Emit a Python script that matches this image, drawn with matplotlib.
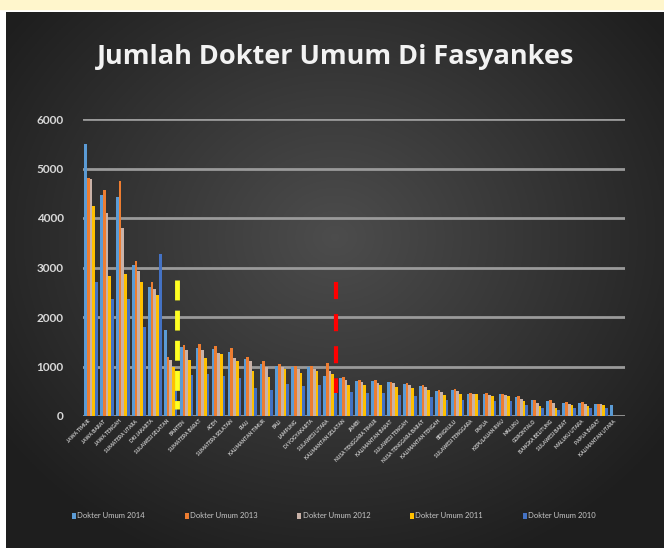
import numpy as np
import matplotlib
matplotlib.use("Agg")
import matplotlib.pyplot as plt
from matplotlib.patches import Rectangle

plt.rcParams['font.family'] = ['Lato', 'DejaVu Sans']

provinsi = ['JAWA TIMUR', 'JAWA BARAT', 'JAWA TENGAH', 'SUMATERA UTARA', 'DKI JAKARTA',
            'SULAWESI SELATAN', 'BANTEN', 'SUMATERA BARAT', 'ACEH', 'SUMATERA SELATAN',
            'RIAU', 'KALIMANTAN TIMUR', 'BALI', 'LAMPUNG', 'DI YOGYAKARTA',
            'SULAWESI UTARA', 'KALIMANTAN SELATAN', 'JAMBI', 'NUSA TENGGARA TIMUR',
            'KALIMANTAN BARAT', 'SULAWESI TENGAH', 'NUSA TENGGARA BARAT', 'KALIMANTAN TENGAH',
            'BENGKULU', 'SULAWESI TENGGARA', 'PAPUA', 'KEPULAUAN RIAU', 'MALUKU',
            'GORONTALO', 'BANGKA BELITUNG', 'SULAWESI BARAT', 'MALUKU UTARA',
            'PAPUA BARAT', 'KALIMANTAN UTARA']

d2014 = [5500, 4470, 4430, 3050, 2600, 1730, 1400, 1380, 1350, 1300, 1150, 1060, 1010, 990,
         1000, 800, 760, 700, 700, 680, 640, 610, 510, 520, 450, 450, 440, 380, 320, 300,
         270, 265, 240, 230]
d2013 = [4800, 4560, 4750, 3130, 2700, 1200, 1440, 1460, 1410, 1380, 1200, 1110, 1060, 1020,
         1020, 1070, 780, 720, 720, 690, 660, 625, 530, 540, 460, 460, 450, 395, 330, 315,
         275, 275, 245, 0]
d2012 = [4780, 4100, 3800, 2930, 2570, 1130, 1340, 1340, 1280, 1180, 1110, 980, 980, 940,
         940, 900, 720, 690, 670, 660, 625, 590, 490, 500, 450, 430, 430, 340, 260, 260,
         250, 250, 235, 0]
d2011 = [4250, 2830, 2870, 2700, 2450, 1000, 1140, 1180, 1250, 1110, 900, 780, 950, 870,
         910, 850, 625, 625, 625, 590, 560, 530, 430, 440, 440, 395, 410, 300, 200, 165,
         230, 210, 220, 0]
d2010 = [2700, 2370, 2370, 1800, 3270, 900, 820, 850, 800, 760, 560, 520, 640, 600,
         620, 580, 480, 470, 460, 430, 400, 380, 320, 330, 320, 300, 300, 220, 160, 130,
         170, 160, 160, 0]

seri = ['Dokter Umum 2014', 'Dokter Umum 2013', 'Dokter Umum 2012',
        'Dokter Umum 2011', 'Dokter Umum 2010']
warna = ['#5B9BD5', '#ED7D31', '#C9B2A8', '#FFC000', '#4472C4']
data = [d2014, d2013, d2012, d2011, d2010]

fig = plt.figure(figsize=(6.64, 5.48), dpi=100)
fig.patch.set_facecolor('white')

# panel latar dengan gradasi radial
bg = fig.add_axes([6 / 664, 0, 658 / 664, 536 / 548])
yy, xx = np.mgrid[0:1:300j, 0:1:360j]
r = np.sqrt(((xx - 0.5) / 0.75) ** 2 + ((yy - 0.42) / 0.8) ** 2)
shade = np.clip(0.30 - 0.22 * r, 0.12, 0.30)
bg.imshow(np.dstack([shade] * 3), aspect='auto', extent=[0, 1, 0, 1])
bg.axis('off')
fig.patches.append(Rectangle((0, 1 - 9 / 548), 1, 9 / 548, transform=fig.transFigure,
                             color='#FFF6CC', zorder=5))

ax = fig.add_axes([83 / 664, 1 - 416 / 548, 542 / 664, 297 / 548])
ax.set_facecolor('none')
x = np.arange(len(provinsi))
w = 0.17
for i, (vals, c, lab) in enumerate(zip(data, warna, seri)):
    ax.bar(x + (i - 2) * w, vals, w, color=c, label=lab, zorder=3)

ax.set_xlim(-0.5, len(provinsi) - 0.5)
ax.set_ylim(0, 6000)
ax.set_yticks(range(0, 6001, 1000))
ax.yaxis.grid(True, color='#9a9a9a', linewidth=2, zorder=0, solid_capstyle='round')
for s in ax.spines.values():
    s.set_visible(False)
ax.tick_params(length=0, colors='#d8d8d8')
ax.tick_params(axis='y', labelsize=8.5, pad=14)
for t in ax.get_yticklabels():
    t.set_fontweight('bold')
ax.set_xticks(x)
ax.set_xticklabels(provinsi, rotation=45, ha='right', fontsize=3.5, fontweight='bold',
                   color='#d0d0d0')
ax.tick_params(axis='x', pad=2)

# garis putus-putus penanda
ax.plot([5.4, 5.4], [2750, 150], color='#FFFF22', linewidth=3.5, dashes=(4.1, 2.1), zorder=4)
ax.plot([15.4, 15.4], [2700, 470], color='#FF0000', linewidth=3, dashes=(4.1, 3.6), zorder=4)

fig.text(0.506, 1 - 57 / 548, 'Jumlah Dokter Umum Di Fasyankes', ha='center', va='center',
         fontsize=19.5, fontweight='bold', color='#f2f2f2', family=['Open Sans', 'DejaVu Sans'])

leg = fig.legend(loc='center', bbox_to_anchor=(0.503, 1 - 516 / 548), ncol=5, frameon=False,
                 fontsize=5.5, labelcolor='#c8c8c8', handlelength=0.5, handleheight=0.9,
                 handletextpad=0.2, columnspacing=5.2)

fig.savefig('out.png', dpi=100)
